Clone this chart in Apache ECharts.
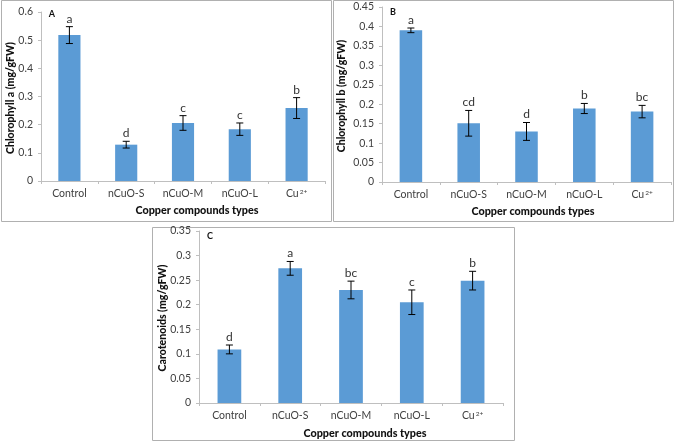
<!DOCTYPE html>
<html>
<head>
<meta charset="utf-8">
<script src="https://cdn.jsdelivr.net/npm/echarts@6/dist/echarts.min.js"></script>
<style>
html,body{margin:0;padding:0;background:#fff;}
#c{width:676px;height:445px;}
</style>
</head>
<body>
<div id="c"></div>
<script>
// ---- data ----
const categories = ['Control', 'nCuO-S', 'nCuO-M', 'nCuO-L', 'Cu2+'];
const xTitle = 'Copper compounds types';

const chlA = [0.518, 0.129, 0.206, 0.184, 0.259];
const chlAErr = [0.030, 0.012, 0.026, 0.022, 0.037];
const chlALetters = ['a', 'd', 'c', 'c', 'b'];

const chlB = [0.390, 0.151, 0.130, 0.189, 0.181];
const chlBErr = [0.006, 0.033, 0.023, 0.013, 0.016];
const chlBLetters = ['a', 'cd', 'd', 'b', 'bc'];

const carot = [0.109, 0.274, 0.230, 0.205, 0.249];
const carotErr = [0.009, 0.014, 0.018, 0.025, 0.019];
const carotLetters = ['d', 'a', 'bc', 'c', 'b'];

const yTicksA = {min: 0, max: 0.6, interval: 0.1};
const yTicksB = {min: 0, max: 0.45, interval: 0.05};
const yTicksC = {min: 0, max: 0.35, interval: 0.05};

// ---- chart ----
const FONT = 'Lato';
const BAR = '#5B9BD5';
const AX = '#bfbfbf';

const grids = [
  {left: 41, top: 12, width: 284, height: 169},
  {left: 382, top: 7, width: 289, height: 175},
  {left: 199, top: 231, width: 304, height: 172}
];

function xAxis(i) {
  return {
    type: 'category', gridIndex: i, data: categories,
    axisLine: {lineStyle: {color: AX}},
    axisTick: {show: true, alignWithLabel: false, length: 3, lineStyle: {color: AX}},
    axisLabel: {
      interval: 0,
      color: '#404040', fontFamily: FONT, fontSize: 10.5, margin: 7,
      formatter: v => v === 'Cu2+' ? 'Cu{sup|2+}' : v,
      rich: {sup: {fontSize: 6.5, fontFamily: FONT, color: '#404040', verticalAlign: 'top', padding: [0, 0, 5, 1]}}
    }
  };
}
function yAxis(i, t) {
  return {
    type: 'value', gridIndex: i, min: t.min, max: t.max, interval: t.interval,
    splitLine: {show: false},
    axisLine: {show: true, lineStyle: {color: AX}},
    axisTick: {show: true, length: 3, lineStyle: {color: AX}},
    axisLabel: {color: '#404040', fontFamily: FONT, fontSize: 10.5, margin: 8,
      formatter: v => String(Math.round(v * 1000) / 1000)}
  };
}

function barSeries(i, data) {
  return {
    type: 'bar', xAxisIndex: i, yAxisIndex: i, data: data,
    barWidth: '39%', itemStyle: {color: BAR}, silent: true
  };
}
function errSeries(i, means, errs, letters) {
  return {
    type: 'custom', xAxisIndex: i, yAxisIndex: i, silent: true, z: 5,
    data: means.map((m, k) => [k, m, errs[k]]),
    renderItem: function (params, api) {
      const k = api.value(0), m = api.value(1), e = api.value(2);
      const hi = api.coord([k, m + e]);
      const lo = api.coord([k, m - e]);
      const x = hi[0], cap = 3.5;
      const st = {stroke: '#000', lineWidth: 1};
      return {
        type: 'group',
        children: [
          {type: 'line', shape: {x1: x, y1: hi[1], x2: x, y2: lo[1]}, style: st},
          {type: 'line', shape: {x1: x - cap, y1: hi[1], x2: x + cap, y2: hi[1]}, style: st},
          {type: 'line', shape: {x1: x - cap, y1: lo[1], x2: x + cap, y2: lo[1]}, style: st},
          {type: 'text', x: x, y: hi[1] - 2,
            style: {text: letters[k], fill: '#333', font: '12px ' + FONT, align: 'center', verticalAlign: 'bottom'}}
        ]
      };
    }
  };
}

function frame(x, y, w, h) {
  return {type: 'rect', shape: {x: x + 0.5, y: y + 0.5, width: w, height: h},
    style: {fill: 'none', stroke: '#b0b0b0', lineWidth: 1}, silent: true, z: -1};
}
function vTitle(text, x, y) {
  return {type: 'text', x: x, y: y, rotation: Math.PI / 2,
    style: {text: text, fill: '#111', font: '900 10.5px ' + FONT, align: 'center', verticalAlign: 'middle'}};
}
function hTitle(text, x, y) {
  return {type: 'text', x: x, y: y,
    style: {text: text, fill: '#111', font: '900 10.8px ' + FONT, align: 'center', verticalAlign: 'middle'}};
}
function tag(text, x, y) {
  return {type: 'text', x: x, y: y,
    style: {text: text, fill: '#111', font: 'bold 9px ' + FONT, align: 'center', verticalAlign: 'middle'}};
}

const chart = echarts.init(document.getElementById('c'), null, {renderer: 'canvas'});
chart.setOption({
  animation: false,
  backgroundColor: '#fff',
  grid: grids,
  xAxis: [xAxis(0), xAxis(1), xAxis(2)],
  yAxis: [yAxis(0, yTicksA), yAxis(1, yTicksB), yAxis(2, yTicksC)],
  series: [
    barSeries(0, chlA), errSeries(0, chlA, chlAErr, chlALetters),
    barSeries(1, chlB), errSeries(1, chlB, chlBErr, chlBLetters),
    barSeries(2, carot), errSeries(2, carot, carotErr, carotLetters)
  ],
  graphic: [
    frame(1, 0, 330, 221),
    frame(333, 0, 340, 221),
    frame(152, 227, 362, 213),
    vTitle('Chlorophyll a (mg/gFW)', 11, 98),
    vTitle('Chlorophyll b (mg/gFW)', 342, 96),
    vTitle('Carotenoids (mg/gFW)', 163, 318),
    hTitle(xTitle, 197, 211),
    hTitle(xTitle, 533, 212),
    hTitle(xTitle, 365, 434),
    tag('A', 52, 14),
    tag('B', 393, 12),
    tag('C', 210, 236)
  ]
});
</script>
</body>
</html>
